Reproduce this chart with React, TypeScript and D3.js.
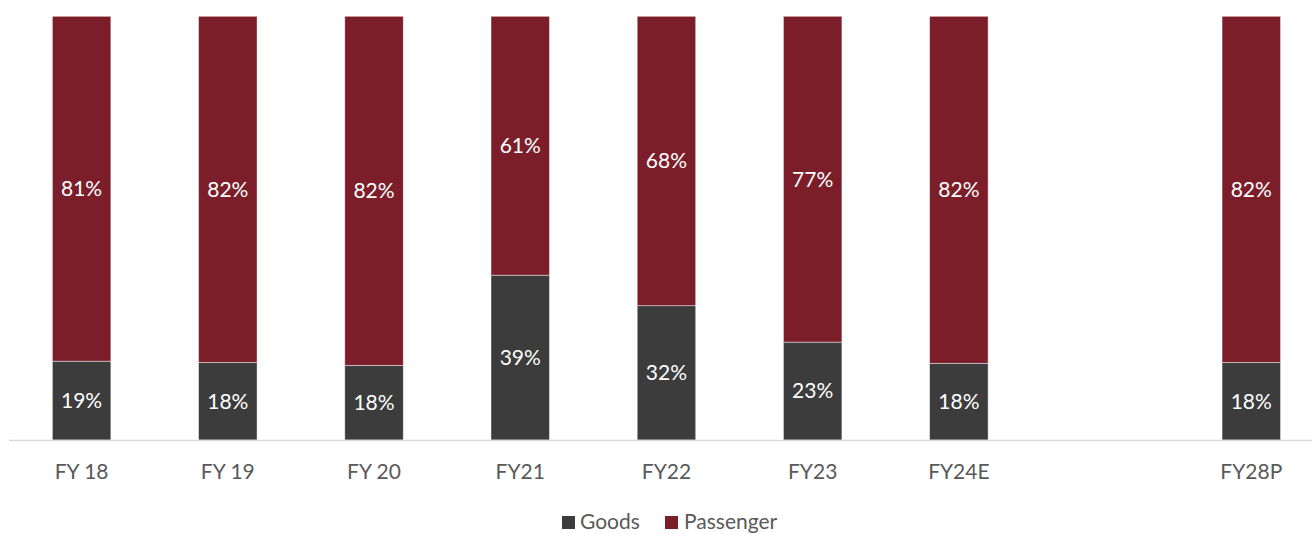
import React from "react";
import * as d3 from "d3";

const categories = ["FY 18", "FY 19", "FY 20", "FY21", "FY22", "FY23", "FY24E", "", "FY28P"];
const goods: (number | null)[] = [18.6, 18.3, 17.6, 38.9, 31.7, 23.1, 18.1, null, 18.3];
const passenger: (number | null)[] = [81.4, 81.7, 82.4, 61.1, 68.3, 76.9, 81.9, null, 81.7];
const seriesNames = ["Goods", "Passenger"];
const seriesColors = ["#3c3c3c", "#7b1e2a"];

const W = 1312;
const H = 534;
const FONT = "Lato, 'Open Sans', sans-serif";

export default function App() {
  const slots = categories.map((c, i) => `s${i}`);
  const x = d3.scaleBand<string>().domain(slots).range([8.5, 1324.4]).paddingInner(0.6).paddingOuter(0.3);
  const y = d3.scaleLinear().domain([0, 100]).range([440, 16.3]);
  const rows = categories.map((c, i) => ({ key: slots[i], label: c, Goods: goods[i], Passenger: passenger[i] }));
  const valid = rows.filter((r) => r.Goods != null);
  const stack = d3.stack<any>().keys(seriesNames)(valid as any);
  const fmt = (v: number) => `${Math.round(v)}%`;

  return (
    <svg width={W} height={H} style={{ position: "absolute", left: 0, top: 0, background: "#fff" }}>
      {stack.map((layer, si) => (
        <g key={layer.key}>
          {layer.map((d: any) => {
            const x0 = x(d.data.key)!;
            const bw = x.bandwidth();
            const top = y(d[1]);
            const bot = y(d[0]);
            const val = d[1] - d[0];
            return (
              <g key={d.data.key}>
                <rect x={x0} y={top} width={bw} height={bot - top} fill={seriesColors[si]} stroke="#ffffff" strokeOpacity={0.55} strokeWidth={0.8} />
                <text x={x0 + bw / 2} y={(top + bot) / 2} dy="0.35em" textAnchor="middle" fill="#ffffff" fontFamily={FONT} fontSize={21}>
                  {fmt(val)}
                </text>
              </g>
            );
          })}
        </g>
      ))}
      <line x1={9} x2={W} y1={440.5} y2={440.5} stroke="#d9d9d9" strokeWidth={1.5} />
      {rows.map((r) => (
        <text key={r.key} x={x(r.key)! + x.bandwidth() / 2} y={479} textAnchor="middle" fill="#595959" fontFamily={FONT} fontSize={21}>
          {r.label}
        </text>
      ))}
      <g>
        <rect x={562} y={516} width={13} height={13} fill={seriesColors[0]} />
        <text x={580} y={529} fill="#595959" fontFamily={FONT} fontSize={21}>{seriesNames[0]}</text>
        <rect x={665} y={516} width={13} height={13} fill={seriesColors[1]} />
        <text x={684} y={529} fill="#595959" fontFamily={FONT} fontSize={21}>{seriesNames[1]}</text>
      </g>
    </svg>
  );
}
